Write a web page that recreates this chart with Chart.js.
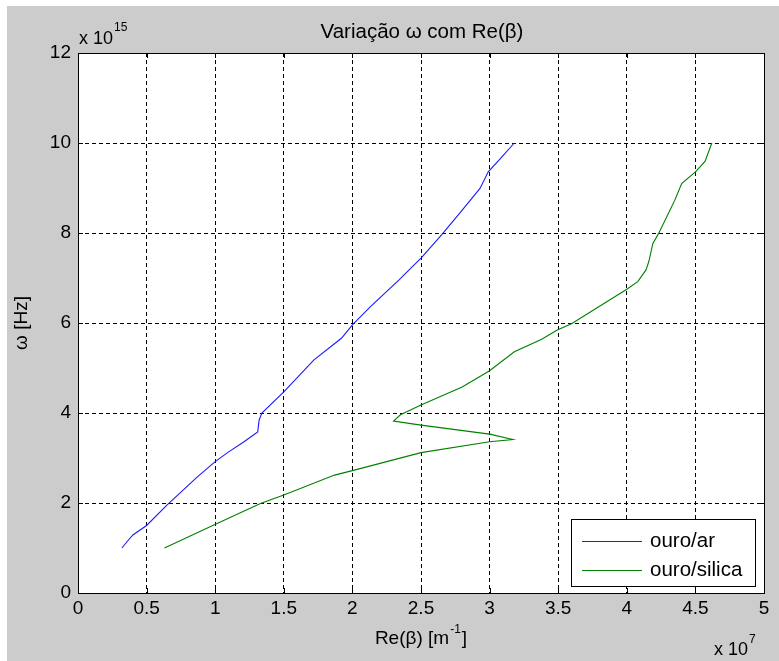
<!DOCTYPE html>
<html>
<head>
<meta charset="utf-8">
<script src="https://cdn.jsdelivr.net/npm/chart.js@4/dist/chart.umd.min.js"></script>
<style>
  html,body{margin:0;padding:0;background:#cccccc;}
  #wrap{width:779px;height:661px;}
</style>
</head>
<body>
<div id="wrap"><canvas id="c" width="779" height="661"></canvas></div>
<script>
// Data (x in units of 1e7 m^-1, y in units of 1e15 Hz)
const seriesNames = ['ouro/ar', 'ouro/silica'];
const arX = [0.32,0.36,0.40,0.50,0.65,0.87,1.00,1.09,1.21,1.31,1.32,1.34,1.50,1.72,1.92,2.00,2.13,2.34,2.50,2.65,2.79,2.93,2.99,3.08,3.18];
const arY = [1.00,1.15,1.29,1.50,1.96,2.58,2.92,3.12,3.36,3.58,3.84,4.00,4.47,5.18,5.66,5.96,6.36,6.96,7.44,7.96,8.47,8.99,9.36,9.66,10.00];
const silicaX = [0.63,0.99,1.33,1.50,1.87,2.00,2.50,3.00,3.17,3.00,2.50,2.30,2.35,2.50,2.80,3.00,3.18,3.38,3.49,3.60,4.00,4.08,4.14,4.16,4.19,4.23,4.28,4.35,4.40,4.50,4.57,4.62];
const silicaY = [1.00,1.51,1.99,2.18,2.62,2.72,3.12,3.36,3.41,3.53,3.73,3.82,3.96,4.18,4.58,4.94,5.36,5.64,5.84,5.99,6.75,6.92,7.18,7.36,7.77,7.98,8.29,8.73,9.10,9.36,9.59,10.00];
const xTickLabels = ['0','0.5','1','1.5','2','2.5','3','3.5','4','4.5','5'];
const yTickLabels = ['0','2','4','6','8','10','12'];

const FONT = '"Liberation Sans", Arial, sans-serif';
const colors = ['#1a1aff', '#008000'];

function pts(xs, ys){ return xs.map((x,i)=>({x:x, y:ys[i]})); }

const decor = {
  id: 'decor',
  beforeDraw(chart){
    const {ctx, chartArea:a} = chart;
    ctx.save();
    ctx.fillStyle = '#ffffff';
    ctx.fillRect(0,0,chart.width,chart.height);
    ctx.fillStyle = '#cccccc';
    ctx.fillRect(7,6,chart.width-7,chart.height-6);
    ctx.fillStyle = '#ffffff';
    ctx.fillRect(a.left,a.top,a.right-a.left,a.bottom-a.top);
    ctx.restore();
  },
  afterDraw(chart){
    const {ctx, chartArea:a, scales} = chart;
    ctx.save();
    // axis box
    ctx.strokeStyle = '#000'; ctx.lineWidth = 1; ctx.setLineDash([]);
    ctx.strokeRect(Math.round(a.left)+0.5, Math.round(a.top)+0.5, Math.round(a.right-a.left), Math.round(a.bottom-a.top));
    // inner tick marks
    const tl = 5;
    ctx.beginPath();
    xTickLabels.forEach(l=>{
      const px = Math.round(scales.x.getPixelForValue(parseFloat(l)))+0.5;
      ctx.moveTo(px, a.bottom); ctx.lineTo(px, a.bottom-tl);
      ctx.moveTo(px, a.top); ctx.lineTo(px, a.top+tl);
    });
    yTickLabels.forEach(l=>{
      const py = Math.round(scales.y.getPixelForValue(parseFloat(l)))+0.5;
      ctx.moveTo(a.left, py); ctx.lineTo(a.left+tl, py);
      ctx.moveTo(a.right, py); ctx.lineTo(a.right-tl, py);
    });
    ctx.stroke();

    ctx.fillStyle = '#000';
    ctx.textBaseline = 'alphabetic';
    // title
    const cx = (a.left+a.right)/2;
    ctx.font = '20.5px ' + FONT;
    ctx.textAlign = 'center';
    ctx.fillText('Variação ω com Re(β)', cx + 1, 38);

    // y exponent
    ctx.textAlign = 'left';
    ctx.font = '18px ' + FONT;
    ctx.fillText('x 10', 79, 44);
    let w = ctx.measureText('x 10').width;
    ctx.font = '12px ' + FONT;
    ctx.fillText('15', 79 + w + 1, 31);

    // x label with superscript
    ctx.font = '19px ' + FONT;
    const p1 = 'Re(β) [m', p3 = ']';
    const w1 = ctx.measureText(p1).width, w3 = ctx.measureText(p3).width;
    ctx.font = '12px ' + FONT;
    const p2 = '-1';
    const w2 = ctx.measureText(p2).width;
    let sx = cx - (w1+w2+w3+2)/2;
    ctx.font = '19px ' + FONT;
    ctx.fillText(p1, sx, 644);
    ctx.font = '12px ' + FONT;
    ctx.fillText(p2, sx + w1 + 1, 633);
    ctx.font = '19px ' + FONT;
    ctx.fillText(p3, sx + w1 + w2 + 2, 644);

    // x exponent
    ctx.font = '18px ' + FONT;
    ctx.fillText('x 10', 714, 655);
    w = ctx.measureText('x 10').width;
    ctx.font = '12px ' + FONT;
    ctx.fillText('7', 714 + w + 1, 643);

    // y label rotated
    ctx.save();
    ctx.translate(27, (a.top+a.bottom)/2);
    ctx.rotate(-Math.PI/2);
    ctx.textAlign = 'center';
    ctx.font = '19px ' + FONT;
    ctx.fillText('ω [Hz]', 0, 0);
    ctx.restore();

    // legend
    const lx = 571, ly = 519, lw = 184, lh = 67;
    ctx.fillStyle = '#fff';
    ctx.fillRect(lx, ly, lw, lh);
    ctx.strokeStyle = '#000';
    ctx.strokeRect(lx+0.5, ly+0.5, lw, lh);
    ctx.font = '20.5px ' + FONT;
    ctx.textBaseline = 'middle';
    seriesNames.forEach((n,i)=>{
      const yy = ly + 22 + i*29;
      ctx.strokeStyle = colors[i];
      ctx.beginPath();
      ctx.moveTo(lx+11, yy+0.5); ctx.lineTo(lx+71, yy+0.5);
      ctx.stroke();
      ctx.fillStyle = '#000';
      ctx.fillText(n, lx+79, yy);
    });
    ctx.restore();
  }
};

new Chart(document.getElementById('c'), {
  type: 'scatter',
  data: {
    datasets: [
      {label: seriesNames[0], data: pts(arX, arY), showLine: true, borderColor: colors[0], backgroundColor: colors[0], borderWidth: 1.1, pointRadius: 0, tension: 0},
      {label: seriesNames[1], data: pts(silicaX, silicaY), showLine: true, borderColor: colors[1], backgroundColor: colors[1], borderWidth: 1.1, pointRadius: 0, tension: 0}
    ]
  },
  options: {
    responsive: false,
    animation: false,
    devicePixelRatio: 1,
    layout: {padding: {top: 53, right: 15, bottom: 0, left: 0}},
    plugins: {legend: {display: false}, tooltip: {enabled: false}, title: {display: false}},
    scales: {
      x: {
        type: 'linear', min: 0, max: 5,
        afterFit(s){ s.height = 68; },
        afterBuildTicks(s){ s.ticks = xTickLabels.map(v=>({value: parseFloat(v)})); },
        ticks: {color: '#000', font: {size: 19, family: FONT}, padding: 4, maxRotation: 0,
          callback: (v)=> xTickLabels.find(l=>parseFloat(l)===v) ?? ''},
        grid: {color: '#000', lineWidth: 1, drawTicks: false},
        border: {display: false, dash: [4,3]}
      },
      y: {
        type: 'linear', min: 0, max: 12,
        afterFit(s){ s.width = 78; },
        afterBuildTicks(s){ s.ticks = yTickLabels.map(v=>({value: parseFloat(v)})); },
        ticks: {color: '#000', font: {size: 19, family: FONT}, padding: 7,
          callback: (v)=> yTickLabels.find(l=>parseFloat(l)===v) ?? ''},
        grid: {color: '#000', lineWidth: 1, drawTicks: false},
        border: {display: false, dash: [4,3]}
      }
    }
  },
  plugins: [decor]
});
</script>
</body>
</html>
